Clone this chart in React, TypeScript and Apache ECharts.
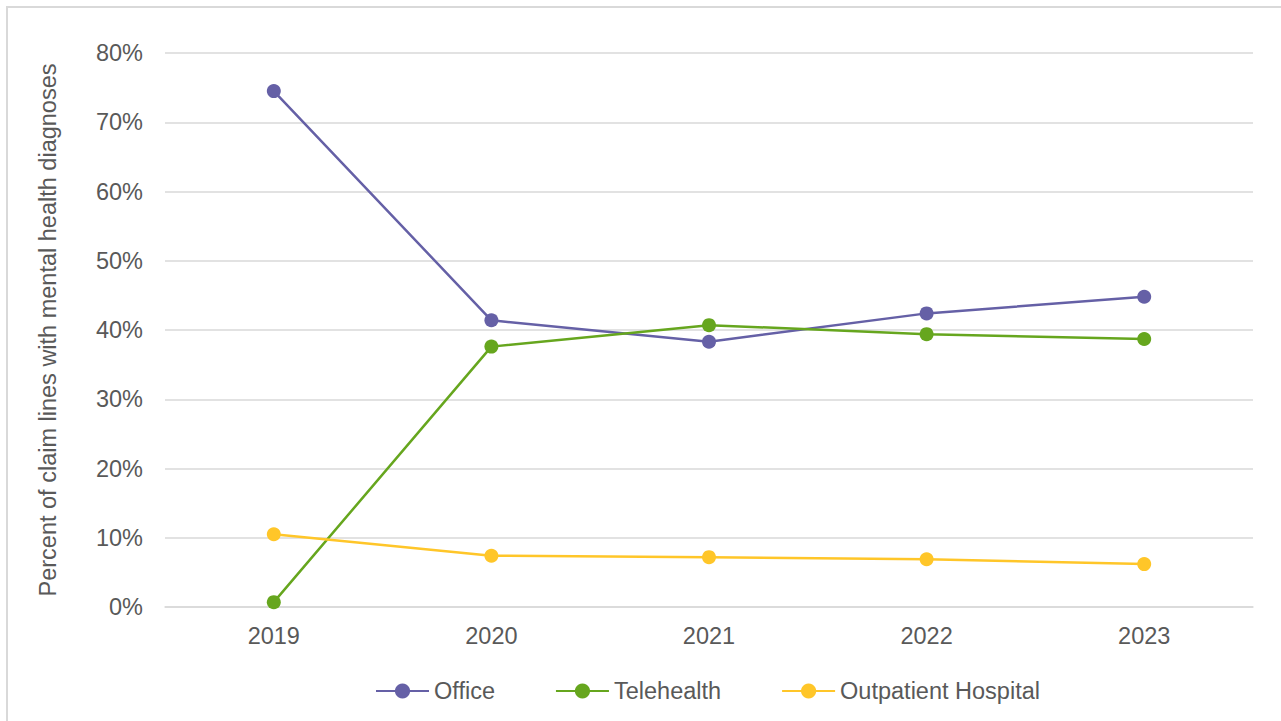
import React, { useEffect, useRef } from "react";
import * as echarts from "echarts";

const years = ["2019", "2020", "2021", "2022", "2023"];
const office = [74.5, 41.4, 38.3, 42.4, 44.8];
const telehealth = [0.7, 37.6, 40.7, 39.4, 38.7];
const outpatient = [10.5, 7.4, 7.2, 6.9, 6.2];
const seriesNames = ["Office", "Telehealth", "Outpatient Hospital"];
const colors = ["#6560A6", "#66A61E", "#FFC629"];

const FONT = "Liberation Sans, Arial, sans-serif";
const TEXT = "#595959";
const FS = 23.5;

export default function App() {
  const ref = useRef<HTMLDivElement>(null);

  useEffect(() => {
    if (!ref.current) return;
    const chart = echarts.init(ref.current, null, { renderer: "svg" });
    const data = [office, telehealth, outpatient];
    chart.setOption({
      animation: false,
      backgroundColor: "#ffffff",
      textStyle: { fontFamily: FONT, color: TEXT },
      graphic: [
        {
          type: "rect",
          shape: { x: 7, y: 7, width: 1300, height: 740 },
          style: { fill: "none", stroke: "#d9d9d9", lineWidth: 2 },
          silent: true,
        },
      ],
      grid: { left: 165, right: 28, top: 53, bottom: 114 },
      legend: {
        left: 375,
        top: 679,
        padding: 0,
        itemWidth: 53,
        itemHeight: 19,
        itemGap: 60,
        textStyle: { fontFamily: FONT, fontSize: FS, color: TEXT },
        data: seriesNames,
      },
      xAxis: {
        type: "category",
        data: years,
        boundaryGap: true,
        axisLine: { show: true, lineStyle: { color: "#d9d9d9", width: 1.5 } },
        axisTick: { show: false },
        axisLabel: { fontFamily: FONT, fontSize: FS, color: TEXT, margin: 17 },
      },
      yAxis: {
        type: "value",
        min: 0,
        max: 80,
        interval: 10,
        name: "Percent of claim lines with mental health diagnoses",
        nameLocation: "middle",
        nameGap: 105,
        nameTextStyle: { fontFamily: FONT, fontSize: FS, color: TEXT },
        axisLine: { show: false },
        axisTick: { show: false },
        axisLabel: { fontFamily: FONT, fontSize: FS, color: TEXT, margin: 22, formatter: "{value}%" },
        splitLine: { lineStyle: { color: "#d9d9d9", width: 1.5 } },
      },
      series: seriesNames.map((name, i) => ({
        name,
        type: "line",
        data: data[i],
        color: colors[i],
        symbol: "circle",
        symbolSize: 14,
        lineStyle: { width: 2.5, color: colors[i] },
        itemStyle: { color: colors[i] },
      })),
    });
    return () => chart.dispose();
  }, []);

  return (
    <div style={{ position: "absolute", left: 0, top: 0, width: 1281, height: 721, overflow: "hidden" }}>
      <div ref={ref} style={{ width: 1281, height: 721 }} />
    </div>
  );
}
